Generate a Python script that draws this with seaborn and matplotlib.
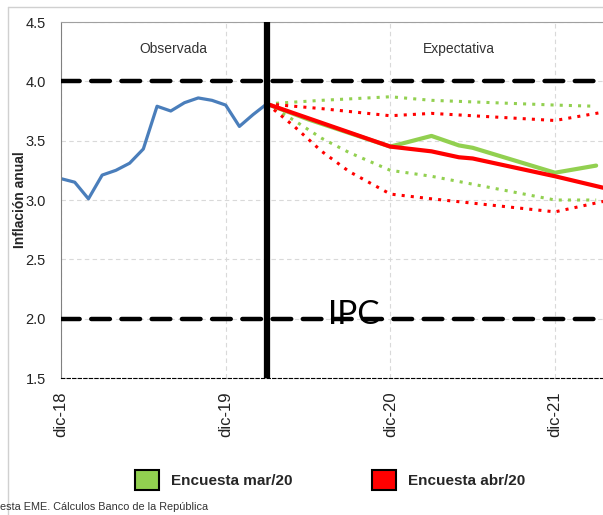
import matplotlib
matplotlib.use("Agg")
import matplotlib.pyplot as plt
import matplotlib.lines as mlines
import matplotlib.patches as mpatches
import seaborn as sns

# months counted from dic-18 (0)
obs_months = list(range(0, 16))
obs_ipc = [3.18, 3.15, 3.01, 3.21, 3.25, 3.31, 3.43, 3.79, 3.75, 3.82,
           3.86, 3.84, 3.80, 3.62, 3.72, 3.81]

mar_months = [15, 18, 24, 27, 29, 30, 36, 39]
mar_mean = [3.81, 3.68, 3.45, 3.54, 3.46, 3.44, 3.23, 3.29]
mar_hi_months = [15, 19, 24, 27, 36, 39]
mar_hi = [3.81, 3.84, 3.87, 3.84, 3.80, 3.79]
mar_lo_months = [15, 17, 19, 21, 24, 27, 36, 39]
mar_lo = [3.81, 3.67, 3.52, 3.40, 3.25, 3.20, 3.00, 3.00]

abr_months = [15, 18, 24, 27, 29, 30, 36, 40]
abr_mean = [3.81, 3.69, 3.45, 3.41, 3.36, 3.35, 3.20, 3.09]
abr_hi_months = [15, 19, 24, 27, 36, 40]
abr_hi = [3.81, 3.77, 3.71, 3.73, 3.67, 3.75]
abr_lo_months = [15, 17, 19, 21, 24, 27, 36, 40]
abr_lo = [3.81, 3.62, 3.41, 3.24, 3.05, 3.01, 2.90, 3.00]

tick_months = [0, 12, 24, 36]
tick_labels = ["dic-18", "dic-19", "dic-20", "dic-21"]
y_ticks = [1.5, 2.0, 2.5, 3.0, 3.5, 4.0, 4.5]

blue = "#4A7EBB"
green = "#92D050"
red = "#FF0000"

sns.set_style("white")
plt.rcParams["font.family"] = ["Liberation Sans", "DejaVu Sans"]

fig = plt.figure(figsize=(6.03, 5.15), dpi=100)
ax = fig.add_axes([61 / 603, 1 - 378 / 515, 1 - 61 / 603, (378 - 22) / 515])

ax.grid(True, linestyle=(0, (4, 3)), color="#d9d9d9", linewidth=0.8)
ax.set_axisbelow(True)

dot = (0, (1, 2))
sns.lineplot(x=mar_hi_months, y=mar_hi, ax=ax, color=green, lw=2.2, linestyle=dot)
sns.lineplot(x=mar_lo_months, y=mar_lo, ax=ax, color=green, lw=2.2, linestyle=dot)
sns.lineplot(x=abr_hi_months, y=abr_hi, ax=ax, color=red, lw=2.2, linestyle=dot)
sns.lineplot(x=abr_lo_months, y=abr_lo, ax=ax, color=red, lw=2.2, linestyle=dot)
sns.lineplot(x=mar_months, y=mar_mean, ax=ax, color=green, lw=3)
sns.lineplot(x=abr_months, y=abr_mean, ax=ax, color=red, lw=3)
sns.lineplot(x=obs_months, y=obs_ipc, ax=ax, color=blue, lw=2.3)

for yv in (4.0, 2.0):
    ax.axhline(yv, color="black", lw=3.2, linestyle=(0, (4.2, 2.6)),
               dash_capstyle="round", zorder=4)
ax.axvline(15, color="black", lw=4.5, zorder=5)

ax.set_xlim(0, 39.5)
ax.set_ylim(1.5, 4.5)
ax.set_xticks(tick_months)
ax.set_xticklabels(tick_labels, rotation=90, fontsize=12, color="#222222")
ax.set_yticks(y_ticks)
ax.set_yticklabels([f"{v:.1f}" for v in y_ticks], fontsize=10.5, color="#222222")
ax.tick_params(axis="x", direction="inout", length=7, width=0.8, color="black", pad=6)
ax.tick_params(axis="y", length=0, pad=11)
ax.set_xlabel("")
ax.set_ylabel("Inflación anual", fontsize=10, fontweight="bold")
ax.yaxis.set_label_coords((27 - 61) / 542, 0.5)

ax.spines["left"].set_color("#808080")
ax.spines["top"].set_color("#a0a0a0")
ax.spines["right"].set_visible(False)
ax.spines["bottom"].set_color("black")
ax.spines["bottom"].set_linestyle((0, (3, 2)))
ax.spines["bottom"].set_linewidth(0.8)

ax.text(8.2, 4.27, "Observada", ha="center", va="center", fontsize=10, color="#333333")
ax.text(29, 4.27, "Expectativa", ha="center", va="center", fontsize=10, color="#333333")
ax.text(21.3, 1.955, "IPC", ha="center", va="baseline", fontsize=24,
        family=["Lato", "DejaVu Sans"], color="black", zorder=6)

# outer frame lines
fig.add_artist(mlines.Line2D([8 / 603, 1], [1 - 7 / 515, 1 - 7 / 515], color="#d0d0d0", lw=1))
fig.add_artist(mlines.Line2D([8 / 603, 8 / 603], [0, 1 - 7 / 515], color="#d0d0d0", lw=1))

handles = [mpatches.Patch(facecolor=green, edgecolor="black", lw=1.5, label="Encuesta mar/20"),
           mpatches.Patch(facecolor=red, edgecolor="black", lw=1.5, label="Encuesta abr/20")]
leg = fig.legend(handles=handles, loc="center", bbox_to_anchor=(330 / 603, 1 - 480 / 515),
                 ncol=2, frameon=False, handlelength=1.57, handleheight=1.63,
                 handletextpad=0.78, columnspacing=5.2,
                 prop={"weight": "bold", "size": 11})

fig.text(0.0, 1 - 507 / 515, "esta EME. Cálculos Banco de la República",
         fontsize=7.8, color="#333333", ha="left", va="center")

fig.savefig("out.png", dpi=100)
